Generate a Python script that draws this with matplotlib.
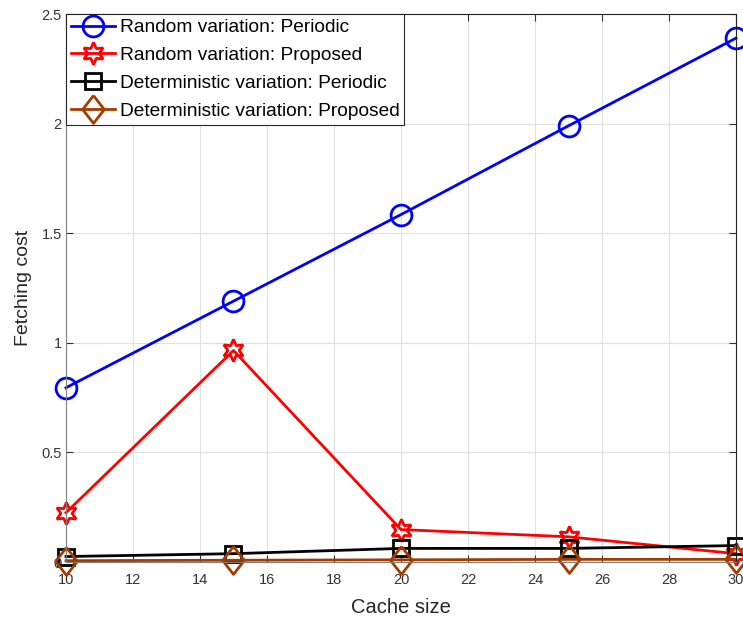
import numpy as np
import matplotlib
matplotlib.use('Agg')
import matplotlib.pyplot as plt

plt.rcParams['font.family'] = ['Liberation Sans', 'DejaVu Sans']

cache_size = [10, 15, 20, 25, 30]
rand_periodic = [0.795, 1.19, 1.585, 1.99, 2.39]
rand_proposed = [0.225, 0.965, 0.148, 0.115, 0.038]
det_periodic = [0.025, 0.038, 0.062, 0.062, 0.075]
det_proposed = [0.006, 0.008, 0.010, 0.012, 0.012]

labels = ['Random variation: Periodic', 'Random variation: Proposed',
          'Deterministic variation: Periodic', 'Deterministic variation: Proposed']

# MATLAB-like diamond, a bit taller than wide
diamond = [(0, 1), (0.78, 0), (0, -1), (-0.78, 0), (0, 1)]

fig = plt.figure(figsize=(7.43, 6.25), dpi=100)
ax = fig.add_axes([0.0888, 0.1008, 0.9018, 0.8768])

brown = '#A23C00'
ax.plot(cache_size, rand_periodic, '-', color='b', marker='o', ms=15,
        mfc='none', mew=2, lw=2, clip_on=False, label=labels[0])
ax.plot(cache_size, rand_proposed, '-', color='r', marker=(6, 1, 0), ms=16,
        mfc='none', mew=2, lw=2, clip_on=False, label=labels[1])
ax.plot(cache_size, det_periodic, '-', color='k', marker='s', ms=12,
        mfc='none', mew=2, lw=2, clip_on=False, label=labels[2])
ax.plot(cache_size, det_proposed, '-', color=brown, marker=diamond, ms=20,
        mfc='none', mew=2, lw=2, clip_on=False, label=labels[3])

ax.set_xlim(10, 30)
ax.set_ylim(0, 2.5)
ax.set_xticks(np.arange(10, 31, 2))
ax.set_yticks([0, 0.5, 1, 1.5, 2, 2.5])
ax.set_yticklabels(['0', '0.5', '1', '1.5', '2', '2.5'])
ax.grid(True, color='#e0e0e0', lw=0.8)
ax.set_axisbelow(True)
ax.tick_params(direction='in', top=True, right=True, labelsize=10.5, length=5,
               colors='#333333')
ax.tick_params(axis='x', pad=8)
ax.tick_params(axis='y', pad=3)
for s in ['left', 'bottom']:
    ax.spines[s].set_color('#808080')
for s in ['top', 'right']:
    ax.spines[s].set_color('#222222')

ax.set_xlabel('Cache size', fontsize=14.5, color='#262626', labelpad=8)
ax.set_ylabel('Fetching cost', fontsize=14, color='#262626', labelpad=7)

leg = ax.legend(loc='upper left', fontsize=13.8, fancybox=False, framealpha=1,
                edgecolor='#262626', borderaxespad=0, handlelength=2.3,
                handletextpad=0.25, borderpad=0.25, labelspacing=0.55)
leg.get_frame().set_linewidth(0.8)

fig.savefig('out.png', dpi=100)
